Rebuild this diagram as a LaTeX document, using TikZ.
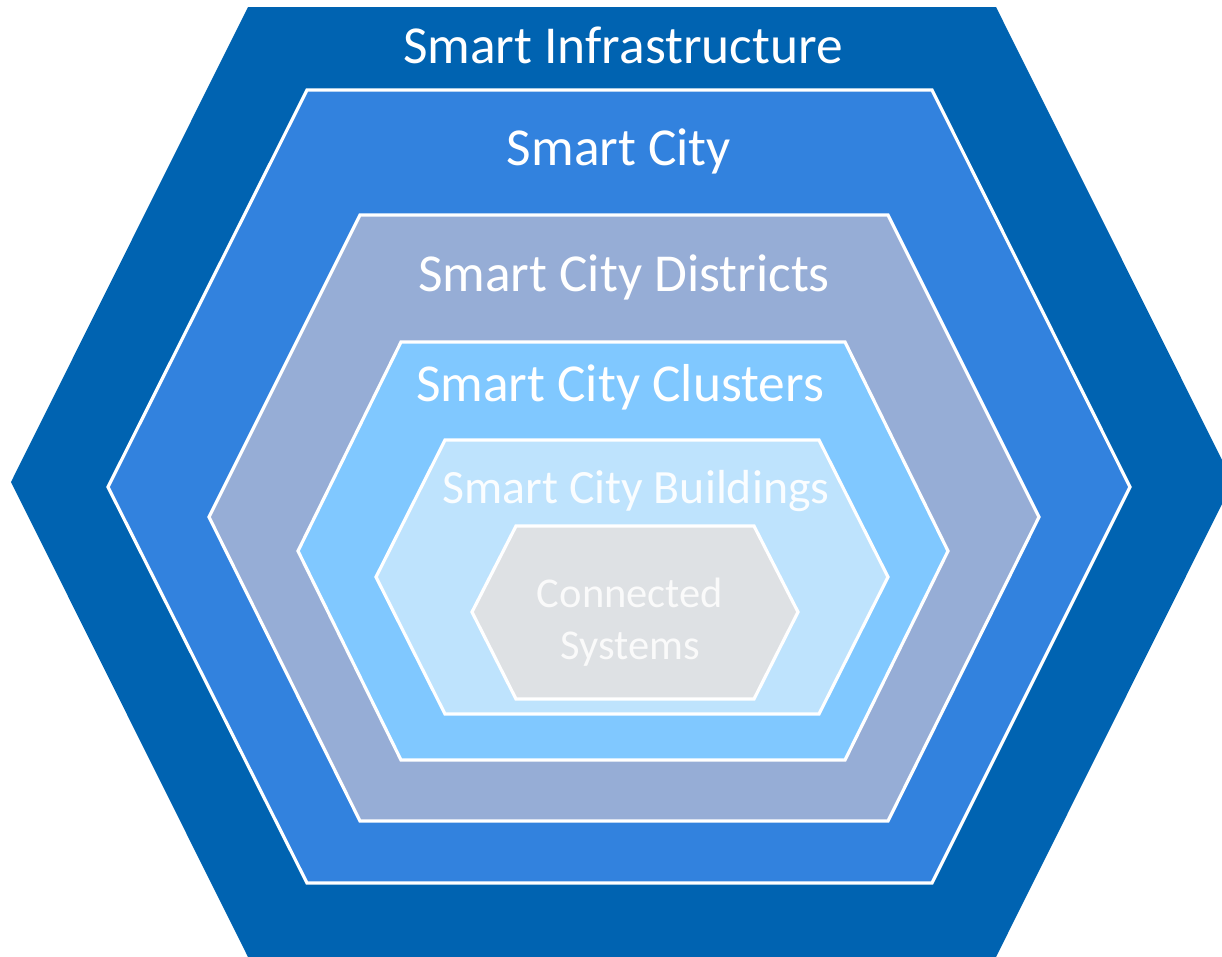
\documentclass[tikz,border=0pt]{standalone}
\usepackage{fontspec}
\setmainfont{Carlito}
\definecolor{cA}{HTML}{0063B1}
\definecolor{cB}{HTML}{3282DE}
\definecolor{cC}{HTML}{96ADD6}
\definecolor{cD}{HTML}{80C8FF}
\definecolor{cE}{HTML}{BEE3FD}
\definecolor{cF}{HTML}{DEE1E4}
\tikzset{
  hexa/.style={draw=white, line width=3.2pt, line join=miter},
  lbl/.style={text=white, anchor=base, inner sep=0pt, font=\fontsize{53.4}{62}\selectfont},
  lblmid/.style={text=white!92!cE, anchor=base, inner sep=0pt, font=\fontsize{47.8}{56}\selectfont},
  lblsmall/.style={text=white!96!gray, anchor=base, inner sep=0pt, font=\fontsize{42.5}{52}\selectfont}
}
\begin{document}
\begin{tikzpicture}[x=1pt,y=-1pt]
\useasboundingbox (0,0) rectangle (1222,956);
\begin{scope}
\clip (0,0) rectangle (1222,956);
\fill[cA] (248,7) -- (996,7) -- (1233,482) -- (996,957) -- (248,957) -- (11,482) -- cycle;
\end{scope}
\filldraw[hexa, fill=cB] (307,90) -- (932,90) -- (1130,487) -- (932,883) -- (307,883) -- (108,487) -- cycle;
\filldraw[hexa, fill=cC] (360,215) -- (888,215) -- (1039,517) -- (888,821) -- (360,821) -- (209,517) -- cycle;
\filldraw[hexa, fill=cD] (401,342) -- (845,342) -- (948,551) -- (845,760) -- (401,760) -- (298,551) -- cycle;
\filldraw[hexa, fill=cE] (445,440) -- (819,440) -- (888,577) -- (819,714) -- (445,714) -- (376,577) -- cycle;
\filldraw[hexa, fill=cF] (516,526) -- (754,526) -- (798,612) -- (754,699) -- (516,699) -- (472,612) -- cycle;
\node[lbl] (t1) at (623,63) {Smart Infrastructure};
\node[lbl] (t2) at (619,165) {Smart City};
\node[lbl] (t3) at (624,291) {Smart City Districts};
\node[lbl] (t4) at (620,401) {Smart City Clusters};
\node[lblmid] (t5) at (636,503) {Smart City Buildings};
\node[lblsmall] (t6) at (630,607) {Connected};
\node[lblsmall] (t7) at (630,659) {Systems};
\end{tikzpicture}
\end{document}
